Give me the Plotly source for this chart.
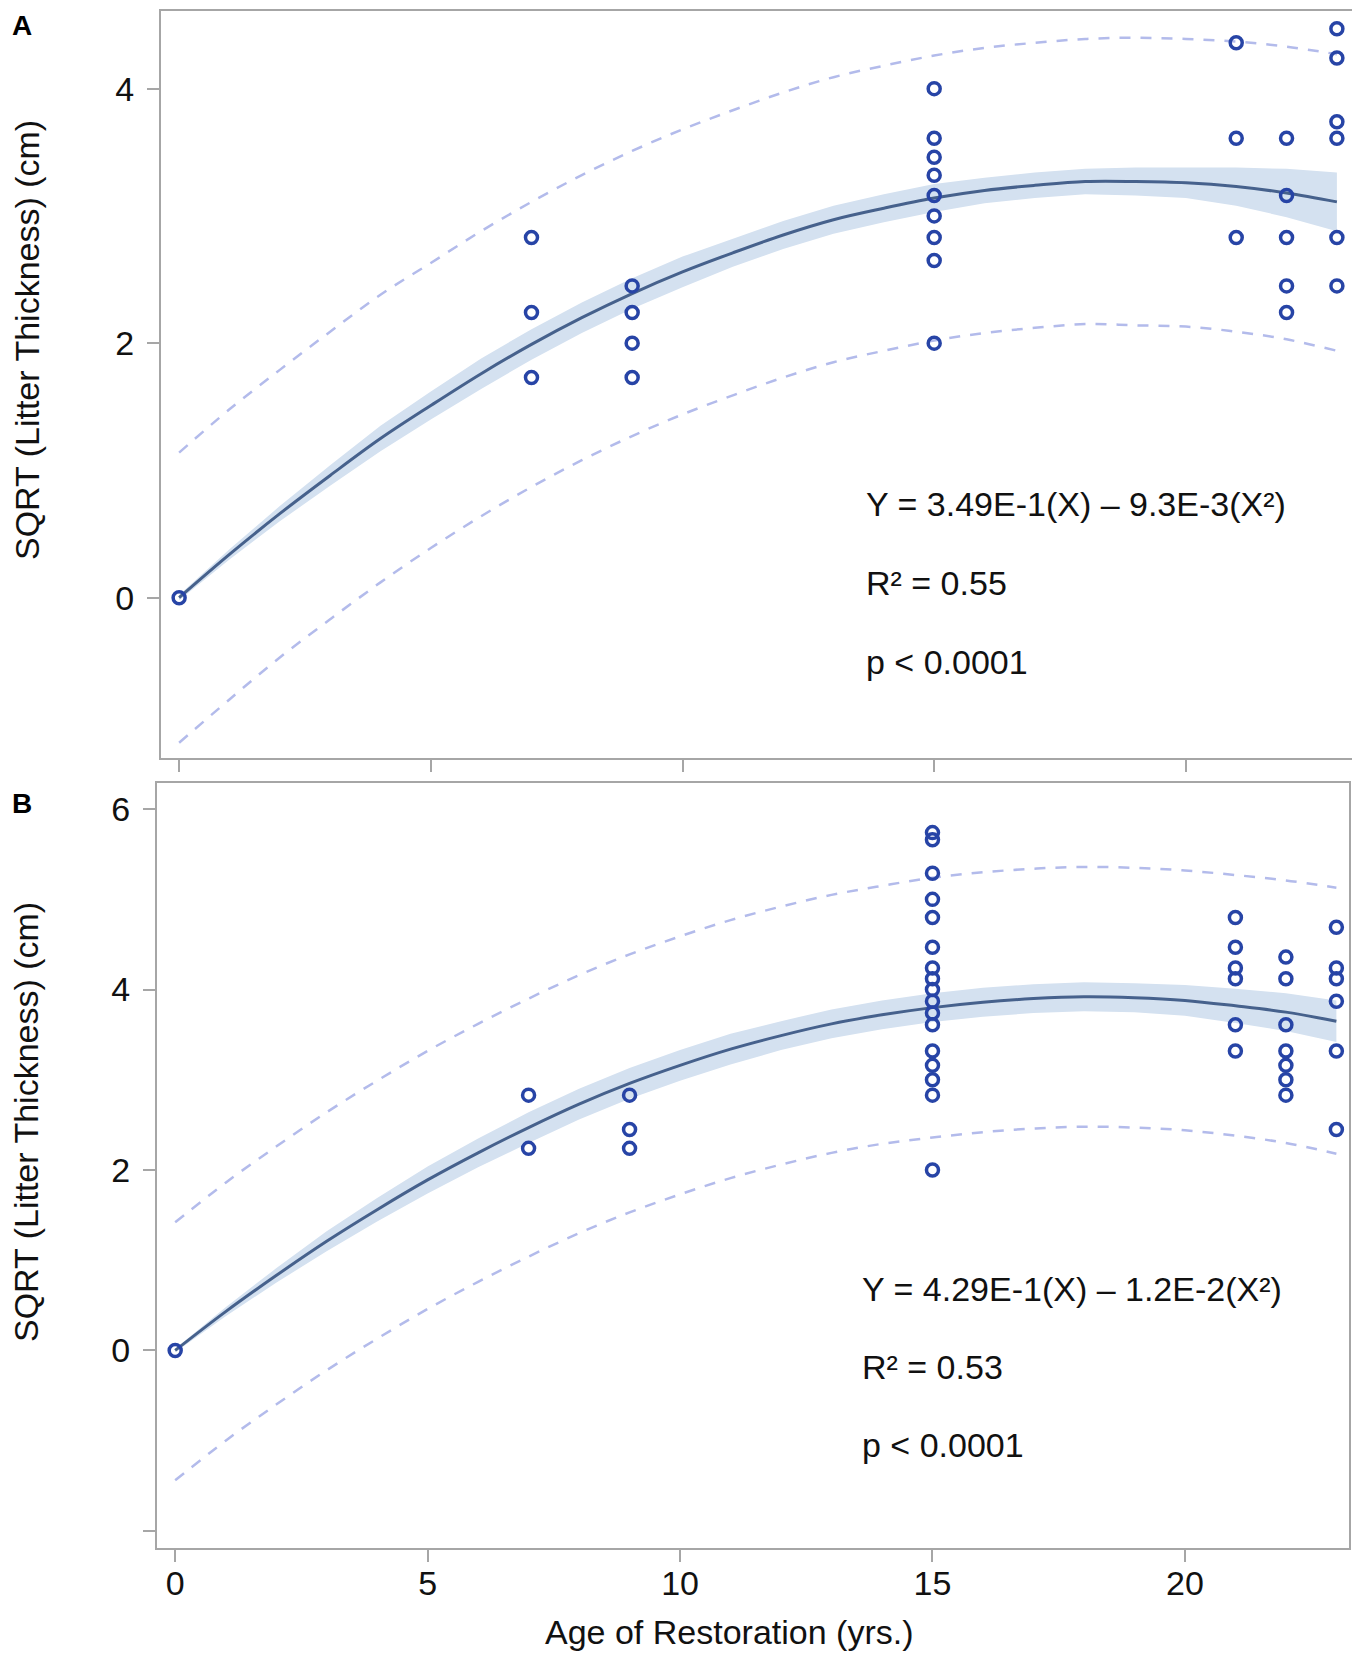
import plotly.graph_objects as go

# ---- data ----
# fitted curve / limits sampled at whole years
fit_x = list(range(0, 24))

a_fit = [0, 0.34, 0.66, 0.96, 1.25, 1.51, 1.76, 1.99, 2.20, 2.39, 2.56, 2.71,
         2.85, 2.97, 3.06, 3.14, 3.20, 3.24, 3.27, 3.27, 3.26, 3.23, 3.18, 3.11]
a_band_hi = [0.02, 0.38, 0.72, 1.04, 1.35, 1.62, 1.88, 2.11, 2.32, 2.51, 2.68, 2.82,
             2.96, 3.08, 3.17, 3.25, 3.30, 3.34, 3.37, 3.38, 3.38, 3.38, 3.37, 3.34]
a_band_lo = [-0.02, 0.30, 0.60, 0.88, 1.15, 1.40, 1.64, 1.87, 2.08, 2.27, 2.44, 2.60,
             2.74, 2.86, 2.95, 3.03, 3.10, 3.14, 3.17, 3.16, 3.14, 3.08, 2.99, 2.88]
a_pred_hi = [1.14, 1.48, 1.79, 2.09, 2.38, 2.63, 2.88, 3.11, 3.32, 3.51, 3.68, 3.83,
             3.97, 4.09, 4.18, 4.26, 4.32, 4.36, 4.39, 4.40, 4.39, 4.37, 4.33, 4.27]
a_pred_lo = [-1.14, -0.80, -0.47, -0.17, 0.12, 0.39, 0.64, 0.87, 1.08, 1.27, 1.44, 1.59,
             1.73, 1.85, 1.94, 2.02, 2.08, 2.12, 2.15, 2.14, 2.13, 2.09, 2.03, 1.94]

b_fit = [0, 0.43, 0.83, 1.21, 1.56, 1.89, 2.19, 2.47, 2.73, 2.96, 3.16, 3.34,
         3.49, 3.62, 3.72, 3.80, 3.86, 3.90, 3.92, 3.91, 3.88, 3.82, 3.75, 3.65]
b_band_hi = [0.02, 0.48, 0.91, 1.32, 1.69, 2.04, 2.35, 2.64, 2.90, 3.13, 3.33, 3.51,
             3.65, 3.78, 3.88, 3.96, 4.02, 4.06, 4.08, 4.07, 4.05, 4.01, 3.96, 3.88]
b_band_lo = [-0.02, 0.38, 0.75, 1.10, 1.43, 1.74, 2.03, 2.30, 2.56, 2.79, 2.99, 3.17,
             3.33, 3.46, 3.56, 3.64, 3.70, 3.74, 3.76, 3.75, 3.71, 3.63, 3.54, 3.42]
b_pred_hi = [1.42, 1.86, 2.26, 2.64, 2.99, 3.32, 3.62, 3.90, 4.16, 4.39, 4.59, 4.77,
             4.92, 5.05, 5.15, 5.24, 5.30, 5.34, 5.36, 5.35, 5.32, 5.27, 5.21, 5.13]
b_pred_lo = [-1.44, -1.00, -0.60, -0.22, 0.13, 0.46, 0.76, 1.04, 1.30, 1.53, 1.73, 1.91,
             2.06, 2.19, 2.29, 2.36, 2.42, 2.46, 2.48, 2.47, 2.44, 2.38, 2.30, 2.18]

# observed points (age, sqrt litter thickness)
a_age = [0,
         7, 7, 7,
         9, 9, 9, 9,
         15, 15, 15, 15, 15, 15, 15, 15, 15,
         21, 21, 21,
         22, 22, 22, 22, 22,
         23, 23, 23, 23, 23, 23]
a_val = [0,
         2.83, 2.24, 1.73,
         2.45, 2.24, 2.0, 1.73,
         4.0, 3.61, 3.46, 3.32, 3.16, 3.0, 2.83, 2.65, 2.0,
         4.36, 3.61, 2.83,
         3.61, 3.16, 2.83, 2.45, 2.24,
         4.47, 4.24, 3.74, 3.61, 2.83, 2.45]

b_age = [0,
         7, 7,
         9, 9, 9,
         15, 15, 15, 15, 15, 15, 15, 15, 15, 15, 15, 15, 15, 15, 15, 15, 15,
         21, 21, 21, 21, 21, 21,
         22, 22, 22, 22, 22, 22, 22,
         23, 23, 23, 23, 23, 23]
b_val = [0,
         2.83, 2.24,
         2.83, 2.45, 2.24,
         5.74, 5.66, 5.29, 5.0, 4.80, 4.47, 4.24, 4.12, 4.0, 3.87, 3.74, 3.61,
         3.32, 3.16, 3.0, 2.83, 2.0,
         4.80, 4.47, 4.24, 4.12, 3.61, 3.32,
         4.36, 4.12, 3.61, 3.32, 3.16, 3.0, 2.83,
         4.69, 4.24, 4.12, 3.87, 3.32, 2.45]

a_stats = ["Y = 3.49E-1(X) – 9.3E-3(X²)", "R² = 0.55", "p < 0.0001"]
b_stats = ["Y = 4.29E-1(X) – 1.2E-2(X²)", "R² = 0.53", "p < 0.0001"]

W, H = 1360, 1657
OFF = 8  # page body margin
FONT = "Liberation Sans, Arial, sans-serif"
PT = "#2744a6"
LINE = "#46618c"
BAND = "#d4e1f0"
DASH = "#b3bbeb"
FRAME = "#a6a6a6"


def px_x(p):
    return (p - OFF) / W


def px_y(p):
    return 1 - (p - OFF) / H


fig = go.Figure()


def add_panel(xa, ya, fit, bhi, blo, phi, plo, age, val):
    fig.add_trace(go.Scatter(x=fit_x, y=bhi, mode="lines", line=dict(width=0, color=BAND),
                             xaxis=xa, yaxis=ya, showlegend=False, hoverinfo="skip"))
    fig.add_trace(go.Scatter(x=fit_x, y=blo, mode="lines", line=dict(width=0, color=BAND),
                             fill="tonexty", fillcolor=BAND,
                             xaxis=xa, yaxis=ya, showlegend=False, hoverinfo="skip"))
    for p in (phi, plo):
        fig.add_trace(go.Scatter(x=fit_x, y=p, mode="lines", line_shape="spline",
                                 line=dict(color=DASH, width=2.5, dash="11px,10px"),
                                 xaxis=xa, yaxis=ya, showlegend=False))
    fig.add_trace(go.Scatter(x=fit_x, y=fit, mode="lines", line_shape="spline",
                             line=dict(color=LINE, width=3),
                             xaxis=xa, yaxis=ya, showlegend=False))
    fig.add_trace(go.Scatter(x=age, y=val, mode="markers",
                             marker=dict(symbol="circle-open", size=12, color=PT,
                                         line=dict(width=3.5, color=PT)),
                             xaxis=xa, yaxis=ya, showlegend=False))


add_panel("x", "y", a_fit, a_band_hi, a_band_lo, a_pred_hi, a_pred_lo, a_age, a_val)
add_panel("x2", "y2", b_fit, b_band_hi, b_band_lo, b_pred_hi, b_pred_lo, b_age, b_val)

ax_common = dict(showgrid=False, zeroline=False, showline=True, linecolor=FRAME,
                 linewidth=2, mirror=True, ticks="outside", ticklen=12,
                 tickcolor=FRAME, tickwidth=1.5,
                 tickfont=dict(family=FONT, size=34, color="#111111"))

fig.update_layout(
    width=W, height=H,
    margin=dict(l=0, r=0, t=0, b=0),
    paper_bgcolor="white", plot_bgcolor="white",
    xaxis=dict(ax_common, domain=[px_x(161), px_x(1353)], range=[-0.36, 23.32],
               tickvals=[0, 5, 10, 15, 20], showticklabels=False, anchor="y"),
    yaxis=dict(ax_common, domain=[px_y(758), px_y(11)], range=[-1.26, 4.61],
               tickvals=[0, 2, 4], anchor="x", ticklabelstandoff=6),
    xaxis2=dict(ax_common, domain=[px_x(157), px_x(1349)], range=[-0.36, 23.25],
                tickvals=[0, 5, 10, 15, 20], anchor="y2", ticklabelstandoff=-8),
    yaxis2=dict(ax_common, domain=[px_y(1548), px_y(783)], range=[-2.19, 6.29],
                tickvals=[-2, 0, 2, 4, 6], ticktext=["", "0", "2", "4", "6"],
                anchor="x2", ticklabelstandoff=6),
)

ann = []
txt = dict(family=FONT, size=34, color="#111111")


def label(text, x, y, font=txt, angle=0, xanchor="center"):
    ann.append(dict(text=text, x=px_x(x), y=px_y(y), xref="paper", yref="paper",
                    xanchor=xanchor, yanchor="middle", textangle=angle,
                    showarrow=False, font=font))


for i, s in enumerate(a_stats):
    label(s, 864, 504 + 79 * i, xanchor="left")
for i, s in enumerate(b_stats):
    label(s, 860, 1289 + 78 * i, xanchor="left")

ytitle = "SQRT (Litter Thickness) (cm)"
label(ytitle, 27, 340, angle=-90)
label(ytitle, 26, 1122, angle=-90)
label("Age of Restoration (yrs.)", 729, 1632)
bold = dict(family=FONT, size=28, color="#000000")
label("<b>A</b>", 22, 25, font=bold)
label("<b>B</b>", 22, 804, font=bold)
fig.update_layout(annotations=ann)

fig.write_html("out.html")
